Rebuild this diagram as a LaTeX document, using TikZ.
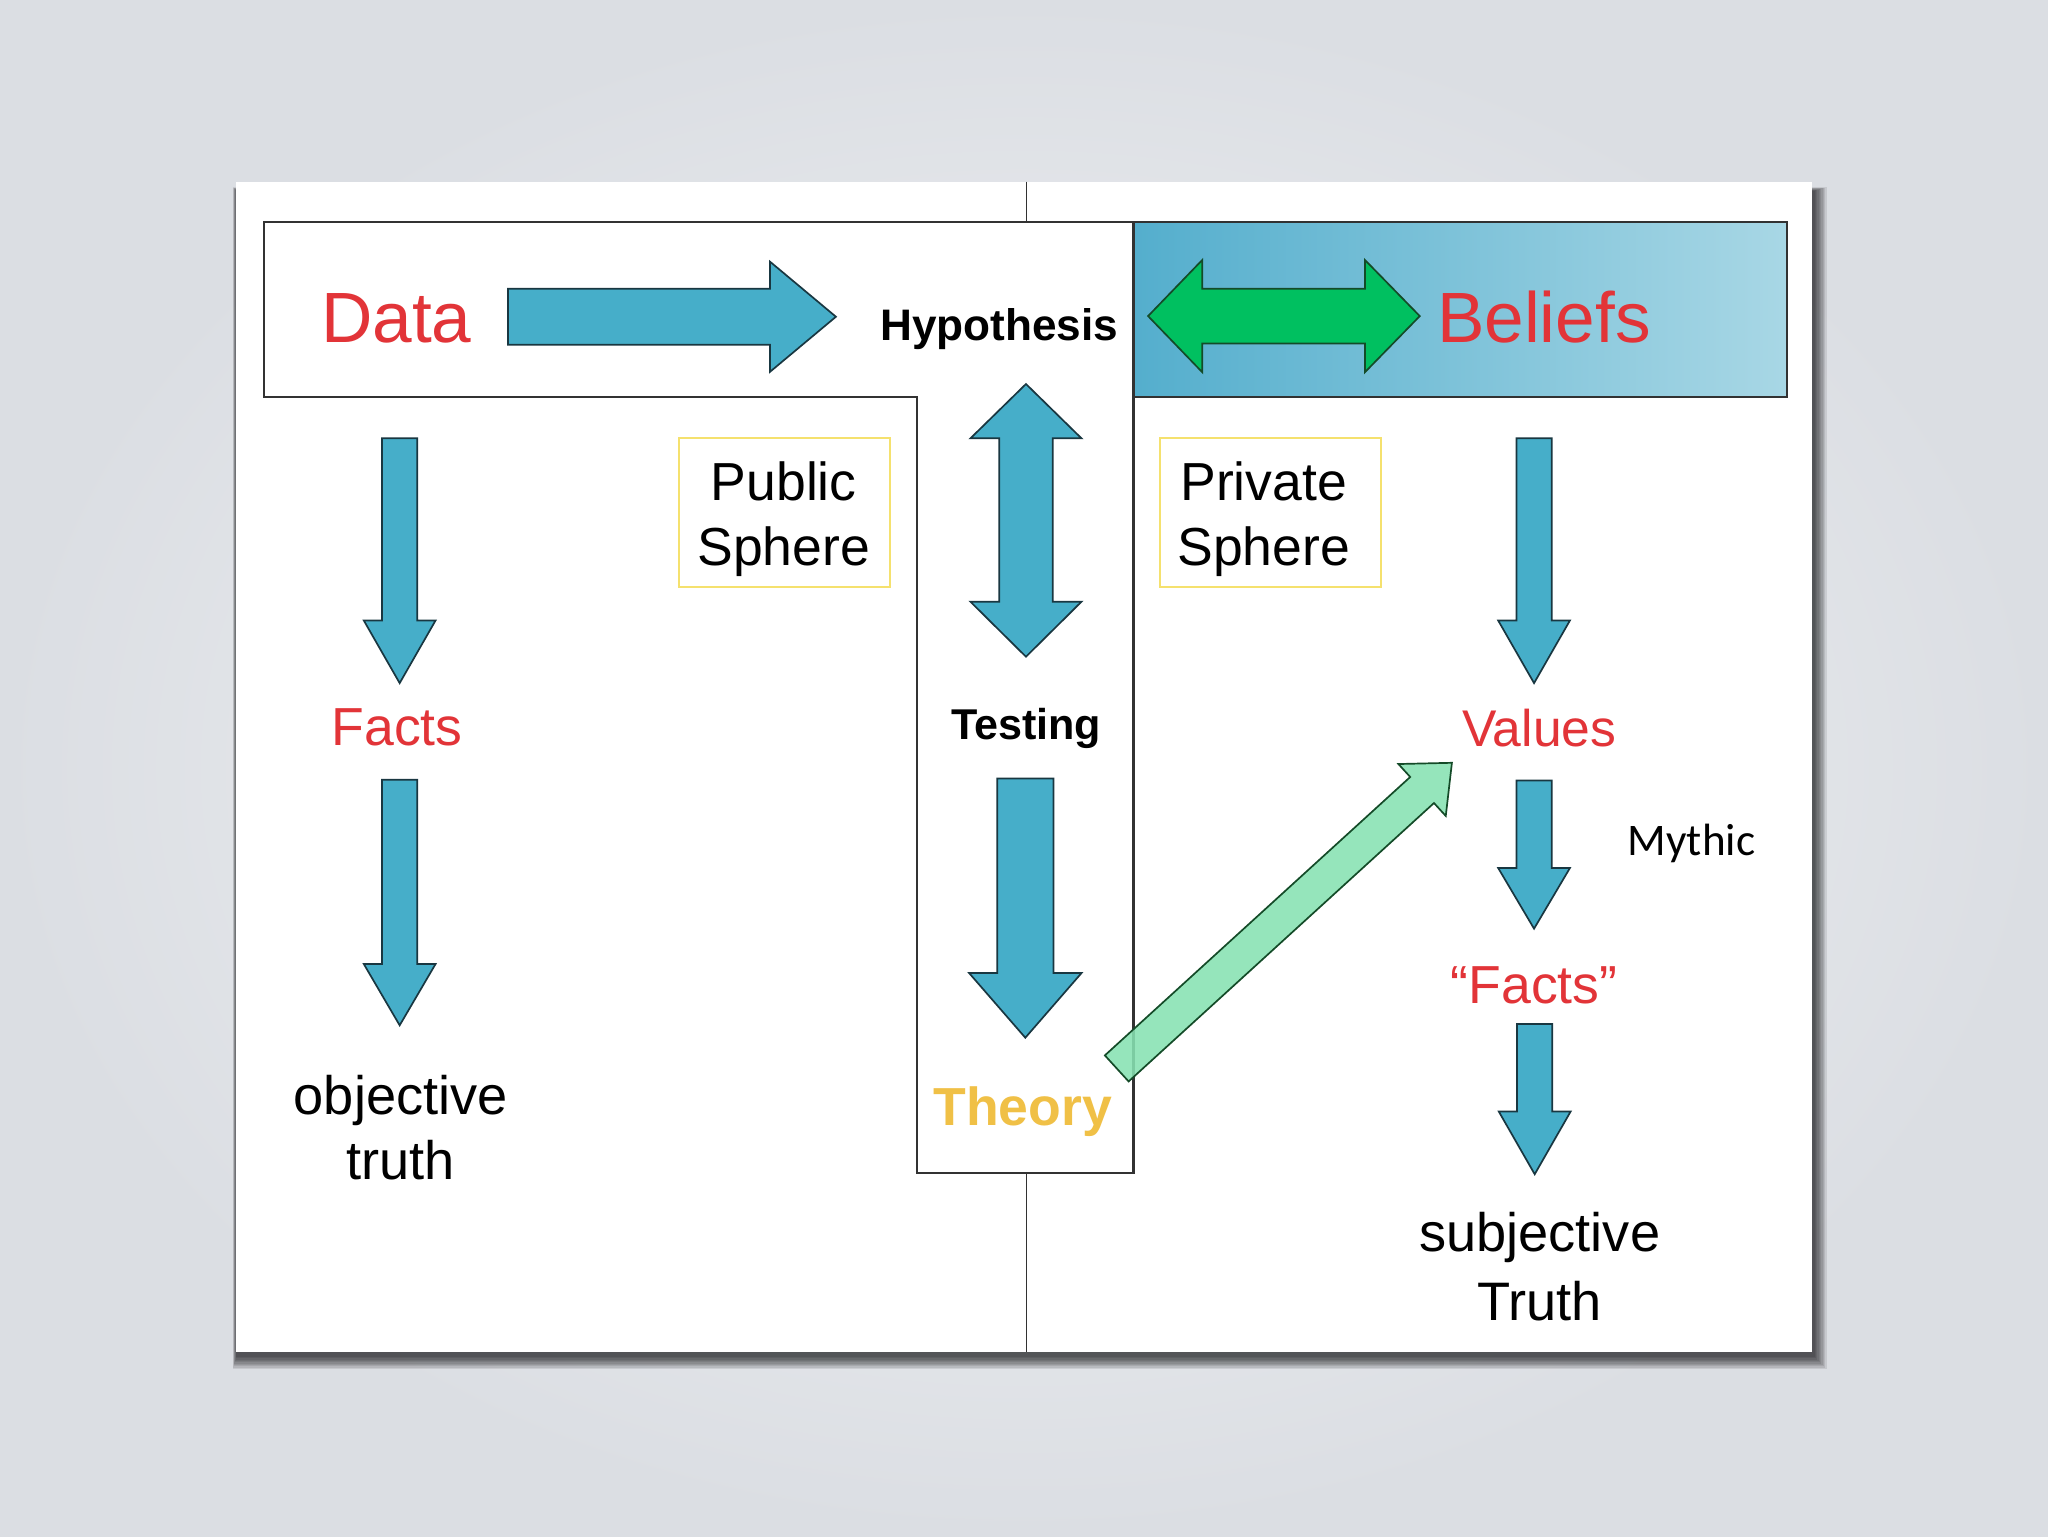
\documentclass[tikz,border=0pt]{standalone}
\usepackage{fontspec}
\setmainfont{Liberation Sans}
\newfontfamily\mythicfont{Carlito}
\definecolor{dred}{RGB}{226,52,56}
\definecolor{ablue}{RGB}{70,174,201}
\definecolor{aedge}{RGB}{25,55,65}
\definecolor{gdark}{RGB}{0,192,96}
\definecolor{gedge}{RGB}{20,75,40}
\definecolor{glight}{RGB}{135,226,178}
\definecolor{theoryc}{RGB}{240,192,70}
\definecolor{ybox}{RGB}{245,225,110}
\definecolor{linec}{RGB}{50,50,50}
\definecolor{bandL}{RGB}{84,174,205}
\definecolor{bandR}{RGB}{168,215,229}
\definecolor{bgin}{RGB}{244,245,247}
\definecolor{bgout}{RGB}{219,222,227}
% block arrows
\newcommand{\bArrowDown}[7]{% style, cx, ytail, ybase, ytip, shaft half, head half
  \path[#1] ({#2-#6},#3) -- ({#2+#6},#3) -- ({#2+#6},#4) -- ({#2+#7},#4) -- (#2,#5)
    -- ({#2-#7},#4) -- ({#2-#6},#4) -- cycle;}
\newcommand{\bArrowUD}[8]{% style, cx, ytip1, ybase1, ybase2, ytip2, shaft half, head half
  \path[#1] (#2,#3) -- ({#2+#8},#4) -- ({#2+#7},#4) -- ({#2+#7},#5) -- ({#2+#8},#5) -- (#2,#6)
    -- ({#2-#8},#5) -- ({#2-#7},#5) -- ({#2-#7},#4) -- ({#2-#8},#4) -- cycle;}
\newcommand{\bArrowRight}[7]{% style, cy, xtail, xbase, xtip, shaft half, head half
  \path[#1] (#3,{#2-#6}) -- (#4,{#2-#6}) -- (#4,{#2-#7}) -- (#5,#2) -- (#4,{#2+#7})
    -- (#4,{#2+#6}) -- (#3,{#2+#6}) -- cycle;}
\newcommand{\bArrowLR}[8]{% style, cy, xtip1, xbase1, xbase2, xtip2, shaft half, head half
  \path[#1] (#3,#2) -- (#4,{#2-#8}) -- (#4,{#2-#7}) -- (#5,{#2-#7}) -- (#5,{#2-#8}) -- (#6,#2)
    -- (#5,{#2+#8}) -- (#5,{#2+#7}) -- (#4,{#2+#7}) -- (#4,{#2+#8}) -- cycle;}
\begin{document}
\begin{tikzpicture}[x=1pt,y=-1pt,
  blockarrow/.style={fill=ablue, draw=aedge, line width=1.3pt, line join=miter},
  greenarrow/.style={fill=gdark, draw=gedge, line width=1.3pt, line join=miter},
  lightarrow/.style={fill=glight, fill opacity=0.88, draw=gedge, line width=1.3pt, line join=miter},
  frameline/.style={draw=linec, line width=1.9pt, line join=miter},
  thinline/.style={draw=linec, line width=1.3pt},
  yellowbox/.style={draw=ybox, line width=1.4pt, inner sep=0pt},
  lbl/.style={inner sep=0pt, anchor=base},
  multi/.style={inner sep=0pt, align=center, anchor=center}
]
\useasboundingbox (0,0) rectangle (1568,1176);
% background
\shade[inner color=bgin, outer color=bgout] (0,0) rectangle (1568,1176);
% slide shadow
\foreach \i in {1,...,10} {
  \fill[black, opacity=0.09] ({181-3+\i*0.3},{139+4+\i*0.3}) rectangle ({1387.5+12-\i},{1035+14-\i});
}
% slide
\fill[white] (181,139) rectangle (1387.5,1035);
% top band gradient
\shade[left color=bandL, right color=bandR] (868,170) rectangle (1368,304);
% frame
\path[frameline] (202,170) -- (1368,170) -- (1368,304) -- (868,304) -- (868,898)
  -- (702,898) -- (702,304) -- (202,304) -- cycle;
\path[frameline] (868,170) -- (868,304);
\coordinate (ctop) at (786,139);
\coordinate (ctopend) at (786,170);
\coordinate (cbot) at (786,898);
\coordinate (cbotend) at (786,1035);
\path[thinline] (ctop) -- (ctopend);
\path[thinline] (cbot) -- (cbotend);
% yellow boxes
\node[yellowbox, minimum width=161.5pt, minimum height=114pt] (pubbox) at (600.75,392.5) {};
\node[yellowbox, minimum width=169.5pt, minimum height=114pt] (privbox) at (972.75,392.5) {};
% blue arrows
\bArrowDown{blockarrow}{306}{335.5}{475}{523}{13.5}{27.5}
\bArrowDown{blockarrow}{306}{597}{738}{785}{13.5}{27.5}
\bArrowDown{blockarrow}{1174.5}{335.5}{475}{523}{13.5}{27.5}
\bArrowDown{blockarrow}{1174.5}{597.5}{664.5}{711}{13.5}{27.5}
\bArrowDown{blockarrow}{1175}{784}{851}{899}{13.5}{27.5}
\bArrowDown{blockarrow}{785}{596}{745}{794.5}{21.5}{43}
\bArrowUD{blockarrow}{785.5}{294}{335.6}{460.7}{502.8}{20.5}{42.5}
\bArrowRight{blockarrow}{242.5}{389}{589.5}{640}{21.5}{42.2}
\bArrowLR{greenarrow}{242}{879}{920.5}{1045}{1087}{21}{43}
% light green diagonal arrow
\begin{scope}[shift={(855,818)}, rotate=42.36]
  \path[lightarrow] (0,-13.5) -- (316.4,-13.5) -- (316.4,-26.9) -- (347.3,0)
    -- (316.4,26.9) -- (316.4,13.5) -- (0,13.5) -- cycle;
\end{scope}
% texts
\node[lbl, text=dred, font=\fontsize{54.5}{60}\selectfont] (data) at (303.5,262) {Data};
\node[lbl, font=\bfseries\fontsize{33.8}{40}\selectfont] (hyp) at (765,261) {Hypothesis};
\node[lbl, text=dred, font=\fontsize{54.5}{60}\selectfont] (beliefs) at (1182,262) {Beliefs};
\node[multi, font=\fontsize{41}{49.7}\selectfont] (pubtxt) at (600,397.2) {Public\\Sphere};
\node[multi, font=\fontsize{41}{49.7}\selectfont] (privtxt) at (967.5,397.2) {Private\\Sphere};
\node[lbl, text=dred, font=\fontsize{41}{48}\selectfont] (facts) at (304,571) {Facts};
\node[lbl, font=\bfseries\fontsize{33}{40}\selectfont] (testing) at (785.7,566.4) {Testing};
\node[lbl, text=dred, font=\fontsize{39.5}{48}\selectfont] (values) at (1178.5,571.5) {Values};
\node[lbl, font=\mythicfont\fontsize{34.6}{40}\selectfont] (mythic) at (1295,655) {Mythic};
\node[lbl, text=dred, font=\fontsize{41}{48}\selectfont] (qfacts) at (1174.5,768.6) {“Facts”};
\node[lbl, text=theoryc, font=\bfseries\fontsize{41}{48}\selectfont] (theory) at (783,862) {Theory};
\node[multi, font=\fontsize{41.5}{49.8}\selectfont] (objtruth) at (306.8,863.5) {objective\\truth};
\node[multi, font=\fontsize{41.5}{52.3}\selectfont] (subtruth) at (1178.8,969.8) {subjective\\Truth};
\end{tikzpicture}
\end{document}
